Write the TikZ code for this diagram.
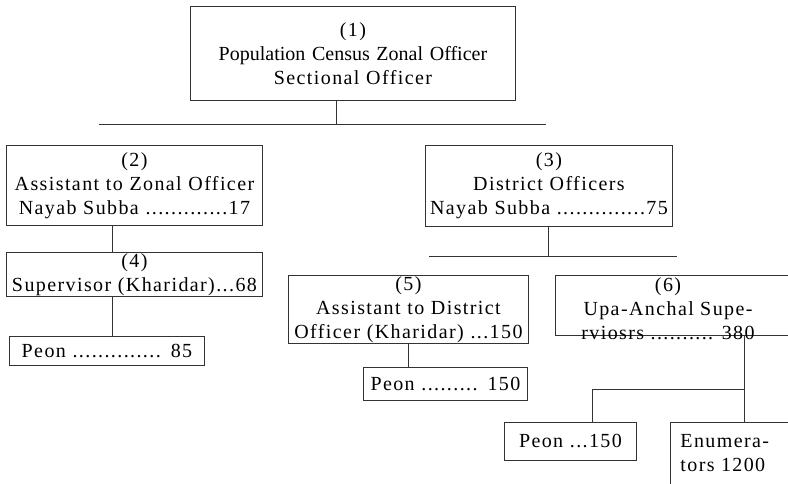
\documentclass[tikz,border=0pt]{standalone}
\usepackage{fontspec}
\setmainfont{Liberation Serif}[LetterSpace=7]
\newfontfamily\plainserif{Liberation Serif}
\usetikzlibrary{positioning}

\begin{document}
\begin{tikzpicture}[x=1pt, y=-1pt, line width=0.9pt,
    box/.style={draw=black!80, rectangle, anchor=north west, inner xsep=0pt, inner ysep=0pt,
                align=center, font=\fontsize{20}{24}\selectfont},
    txt/.style={inner sep=0pt, font=\fontsize{20}{24}\selectfont},
    bar/.style={draw=black!80}]
    \useasboundingbox (0,0) rectangle (788,483);
    \clip (0,0) rectangle (788,483);
    % Top
    \node[box, text width=325pt, minimum height=94pt] (b1) at (190,6)
      {(1)\\{\plainserif Population Census Zonal Officer}\\Sectional Officer};
    \coordinate (j1) at (336,124);
    \coordinate (bar1a) at (99,124);
    \coordinate (bar1b) at (546,124);
    \draw[bar] (j1 |- b1.south) -- (j1);
    \draw[bar] (bar1a) -- (bar1b);
    % Left branch
    \node[box, text width=256pt, minimum height=80pt] (b2) at (6,145)
      {(2)\\Assistant to Zonal Officer\\Nayab Subba .............17};
    \node[box, text width=256pt, minimum height=44pt] (b4) at (6,252)
      {(4)\\Supervisor (Kharidar)...68};
    \node[box, text width=195pt, minimum height=29pt] (p4) at (9,336)
      {Peon .............. 85};
    \draw[bar] ([xshift=-22pt]b2.south) -- ([xshift=-22pt]b4.north);
    \draw[bar] ([xshift=-22pt]b4.south) -- ([xshift=-22pt]b4.south |- p4.north);
    % Right branch
    \node[box, text width=247pt, minimum height=81pt] (b3) at (425,145)
      {(3)\\District Officers\\Nayab Subba ..............75};
    \coordinate (j3) at (548,256);
    \coordinate (bar3a) at (429,256);
    \coordinate (bar3b) at (677,256);
    \draw[bar] (j3 |- b3.south) -- (j3);
    \draw[bar] (bar3a) -- (bar3b);
    \node[box, text width=240pt, minimum height=68pt] (b5) at (288,275)
      {(5)\\Assistant to District\\Officer (Kharidar) ...150};
    \node[box, text width=164pt, minimum height=33pt] (p5) at (363,367)
      {Peon ......... 150};
    \draw[bar] (b5.south) -- (b5.south |- p5.north);
    \node[box, minimum width=260pt, minimum height=60pt] (b6) at (555,275) {};
    \node[txt, align=center, anchor=north] (t6) at (668,277)
      {(6)\\Upa-Anchal Supe-\\rviosrs .......... 380};
    \node[box, text width=132pt, minimum height=38pt] (p6) at (504,422)
      {Peon ...150};
    \node[box, minimum width=140pt, minimum height=100pt] (en) at (670,422) {};
    \node[txt, align=left, anchor=north west] (ten) at (680,434)
      {Enumera-\\tors 1200};
    \coordinate (j6) at (744,389);
    \draw[bar] (j6 |- b6.south) -- (j6 |- en.north);
    \draw[bar] (j6) -| ([xshift=22pt]p6.north);
\end{tikzpicture}
\end{document}
